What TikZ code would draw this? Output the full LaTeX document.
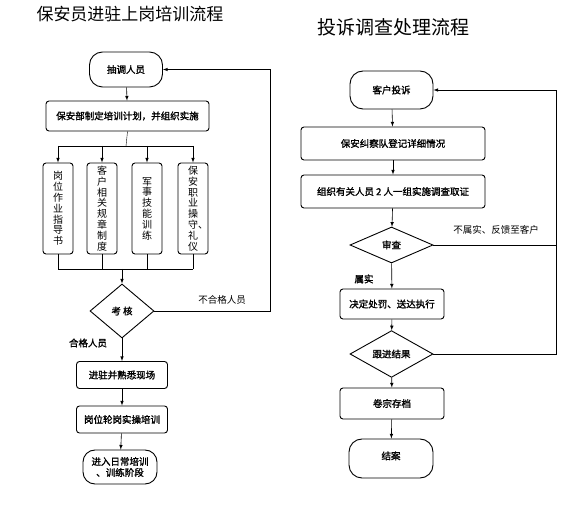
\documentclass[tikz,border=0pt]{standalone}
\usepackage{fontspec}
\setmainfont{Noto Sans CJK SC}[AutoFakeBold=1.6]
\usetikzlibrary{shapes.geometric,positioning}
\tikzstyle{box} = [rectangle, draw, rounded corners=3pt, line width=0.9pt, align=center, inner sep=1pt, font=\fontsize{9.5}{11}\selectfont\bfseries]
\tikzstyle{term} = [box, rounded corners=13pt]
\tikzstyle{vbox} = [box, minimum width=30, minimum height=91, font=\fontsize{10}{10.8}\selectfont]
\tikzstyle{dec} = [diamond, draw, line width=0.9pt, inner sep=0pt, font=\fontsize{9.5}{11}\selectfont\bfseries]
\tikzstyle{lbl} = [font=\fontsize{9.5}{11}\selectfont]
\tikzstyle{arr} = [->, >=latex, line width=0.6pt]

\begin{document}
\begin{tikzpicture}[x=1pt, y=-1pt]
\useasboundingbox (0,0) rectangle (571,529);
% titles
\node(T1) at (130,14) {\fontsize{17}{20}\selectfont 保安员进驻上岗培训流程};
\node(T2) at (393,27) {\fontsize{19}{22}\selectfont 投诉调查处理流程};

% left chart
\node(pull)[term, minimum width=73, minimum height=35] at (126,69.5) {抽调人员};
\node(plan)[box, minimum width=163, minimum height=30] at (127.5,116) {保安部制定培训计划，并组织实施};
\node(v1)[vbox] at (58,208.5) {岗\\位\\作\\业\\指\\导\\书};
\node(v2)[vbox] at (102,208.5) {客\\户\\相\\关\\规\\章\\制\\度};
\node(v3)[vbox] at (147,208.5) {军\\事\\技\\能\\训\\练};
\node(v4)[vbox] at (193,208.5) {保\\安\\职\\业\\操\\守\rlap{、}\\礼\\仪};
\node(exam)[dec, minimum width=64, minimum height=54] at (122,311) {考\ 核};
\node(site)[box, minimum width=91, minimum height=27] at (122,375) {进驻并熟悉现场};
\node(rot)[box, minimum width=91, minimum height=27] at (122,419.5) {岗位轮岗实操培训};
\node(daily)[term, minimum width=74, minimum height=34, rounded corners=12pt] at (120,467) {进入日常培训\\、训练阶段};
\node(fail)[lbl] at (222,300) {不合格人员};
\node(pass)[lbl, font=\fontsize{9.5}{11}\selectfont\bfseries] at (88,343) {合格人员};
\coordinate(sp) at (126,146);
\coordinate(jn) at (122,269);
\coordinate(rl) at (270,0);

\draw[arr](pull)--(plan);
\draw(plan.south)--(sp);
\draw(sp -| v1)--(sp -| v4);
\foreach \v in {v1,v2,v3,v4}{
  \draw[arr](sp -| \v)--(\v.north);
  \draw(\v.south)--(\v.south |- jn);
}
\draw(jn -| v1)--(jn -| v4);
\draw[arr](jn)--(exam.north);
\draw[arr](exam.east)--(exam.east -| rl)|-(pull.east);
\draw[arr](exam)--(site);
\draw[arr](site)--(rot);
\draw[arr](rot)--(daily);

% right chart
\node(comp)[term, minimum width=83, minimum height=38] at (391.5,90) {客户投诉};
\node(reg)[box, minimum width=184, minimum height=33] at (393,143.5) {保安纠察队登记详细情况};
\node(inv)[box, minimum width=184, minimum height=33] at (393,191.5) {组织有关人员 2 人一组实施调查取证};
\node(rev)[dec, minimum width=83, minimum height=36] at (391.5,245) {审查};
\node(pun)[box, minimum width=104, minimum height=30] at (392,304) {决定处罚、送达执行};
\node(fol)[dec, minimum width=83, minimum height=38] at (391.5,354) {跟进结果};
\node(arch)[box, minimum width=104, minimum height=31] at (392,403.5) {卷宗存档};
\node(close)[term, minimum width=84, minimum height=39] at (391,458.5) {\raisebox{6pt}{结案}};
\node(untrue)[lbl] at (496,230) {不属实、反馈至客户};
\node(true)[lbl, font=\fontsize{9.5}{11}\selectfont\bfseries] at (364,279) {属实};
\coordinate(rr) at (556,0);

\draw[arr](comp)--(reg);
\draw[arr](reg)--(inv);
\draw[arr](inv)--(rev);
\draw[arr](rev)--(pun);
\draw[arr](pun)--(fol);
\draw[arr](fol)--(arch);
\draw[arr](arch)--(close);
\draw(rev.east)--(rev.east -| rr);
\draw[arr](fol.east)--(fol.east -| rr)|-(comp.east);
\end{tikzpicture}
\end{document}
